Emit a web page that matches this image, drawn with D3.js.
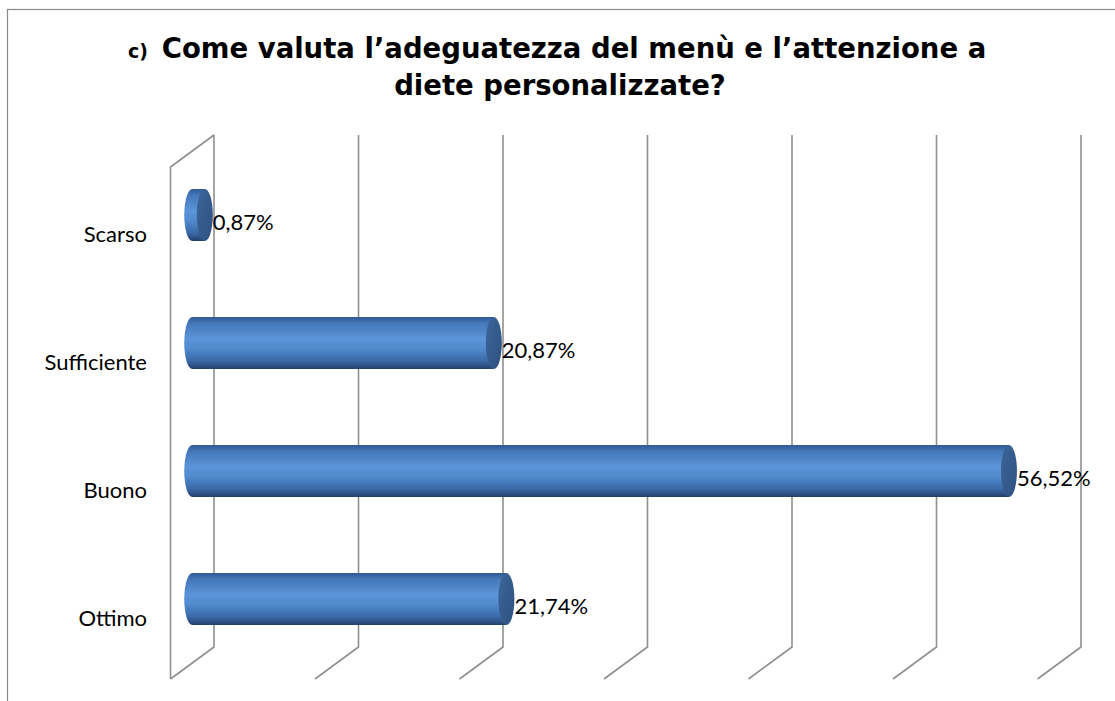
<!DOCTYPE html>
<html>
<head>
<meta charset="utf-8">
<title>Menù</title>
<script src="https://cdn.jsdelivr.net/npm/d3@7/dist/d3.min.js"></script>
<style>
  body { margin: 0; background: white; }
  svg { display: block; }
  .cat, .val { font-family: Lato, "Open Sans", sans-serif; font-size: 22px; fill: #000; }
  .title { font-family: "DejaVu Sans", Verdana, sans-serif; font-weight: bold; fill: #000; }
</style>
</head>
<body>
<div id="chart"></div>
<script>
// data
const categories = ["Scarso", "Sufficiente", "Buono", "Ottimo"];
const values = [0.87, 20.87, 56.52, 21.74];   // percent
const xTicks = [0, 10, 20, 30, 40, 50, 60];

const W = 1115, H = 701;
// back wall of the 3d box, depth offset towards the viewer
const depth = { dx: -43.5, dy: 32 };

const x = d3.scaleLinear().domain([0, 60]).range([214, 1081]);
const y = d3.scaleBand().domain(categories).range([135, 647]);

const svg = d3.select("#chart").append("svg")
  .attr("width", W).attr("height", H);

// gradient for the cylinders
const defs = svg.append("defs");
const grad = defs.append("linearGradient").attr("id", "cyl")
  .attr("x1", 0).attr("y1", 0).attr("x2", 0).attr("y2", 1);
[[0, "#2f5a92"], [0.12, "#4478b9"], [0.42, "#5b94d8"], [0.62, "#5089cc"], [0.85, "#3a68a6"], [1, "#22416c"]]
  .forEach(s => grad.append("stop").attr("offset", s[0]).attr("stop-color", s[1]));
const capGrad = defs.append("linearGradient").attr("id", "cap")
  .attr("x1", 0).attr("y1", 0).attr("x2", 1).attr("y2", 1);
[[0, "#3e6699"], [1, "#2c5080"]]
  .forEach(s => capGrad.append("stop").attr("offset", s[0]).attr("stop-color", s[1]));

// outer frame
svg.append("rect")
  .attr("x", 7.5).attr("y", 9.5).attr("width", 1200).attr("height", 800)
  .attr("fill", "none").attr("stroke", "#8a8a8a").attr("stroke-width", 1.2);

// title
svg.append("text").attr("class", "title")
  .attr("x", 128).attr("y", 58).attr("font-size", 19)
  .text("c)");
svg.append("text").attr("class", "title")
  .attr("x", 574).attr("y", 58).attr("text-anchor", "middle").attr("font-size", 27.5)
  .text("Come valuta l\u2019adeguatezza del menù e l\u2019attenzione a");
svg.append("text").attr("class", "title")
  .attr("x", 560).attr("y", 95).attr("text-anchor", "middle").attr("font-size", 27.5)
  .text("diete personalizzate?");

// grid: back verticals + floor diagonals, left wall
const [yTop, yBot] = y.range();
const grid = svg.append("g").attr("stroke", "#8f8f8f").attr("stroke-width", 1.6).attr("fill", "none");
grid.selectAll("path.g").data(xTicks).enter().append("path")
  .attr("d", t => `M${x(t)},${yTop}V${yBot}l${depth.dx},${depth.dy}`);
grid.append("path")
  .attr("d", `M${x(0) + depth.dx},${yBot + depth.dy}V${yTop + depth.dy}L${x(0)},${yTop}`);

// cylinders, drawn halfway into the box
const mid = { dx: depth.dx / 2, dy: depth.dy / 2 };
const r = 26, rx = 8;
const bars = svg.append("g").selectAll("g").data(categories).enter().append("g");
bars.each(function (c, i) {
  const g = d3.select(this);
  const yc = y(c) + y.bandwidth() / 2 + mid.dy;
  const x0 = x(0) + mid.dx, x1 = x(values[i]) + mid.dx;
  g.append("ellipse").attr("cx", x0).attr("cy", yc).attr("rx", rx).attr("ry", r).attr("fill", "url(#cyl)");
  g.append("rect").attr("x", x0).attr("y", yc - r).attr("width", x1 - x0).attr("height", 2 * r).attr("fill", "url(#cyl)");
  g.append("ellipse").attr("cx", x1).attr("cy", yc).attr("rx", rx).attr("ry", r).attr("fill", "url(#cap)");
  g.append("text").attr("class", "val")
    .attr("x", x1 + rx).attr("y", yc + 15)
    .text(d3.format(".2f")(values[i]).replace(".", ",") + "%");
});

// category labels on the front plane
svg.append("g").selectAll("text").data(categories).enter().append("text")
  .attr("class", "cat")
  .attr("x", 147).attr("text-anchor", "end")
  .attr("y", c => y(c) + y.bandwidth() / 2 + depth.dy + 11)
  .text(c => c);
</script>
</body>
</html>
